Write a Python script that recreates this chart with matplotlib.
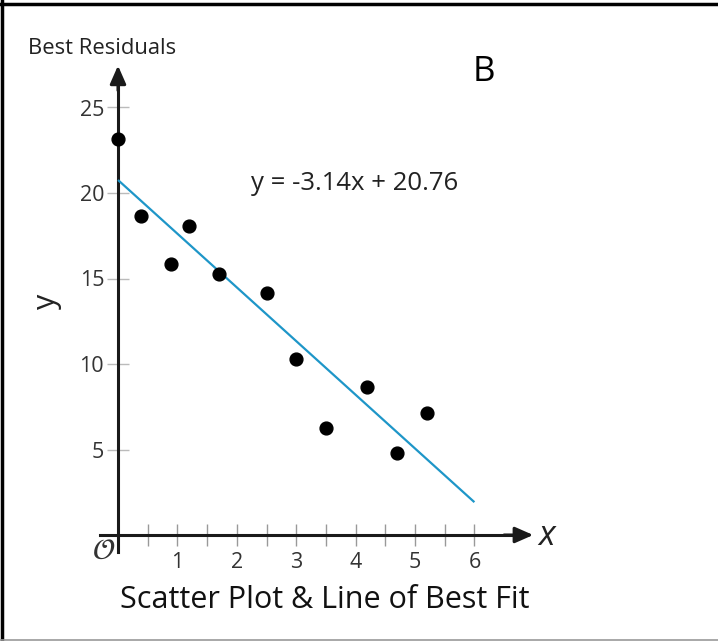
import matplotlib
matplotlib.use("Agg")
import matplotlib.pyplot as plt
import numpy as np

# Data
x_vals = [0.0, 0.39, 0.89, 1.19, 1.70, 2.50, 3.00, 3.50, 4.20, 4.70, 5.21]
y_vals = [23.16, 18.65, 15.85, 18.07, 15.26, 14.17, 10.27, 6.27, 8.67, 4.78, 7.12]
slope = -3.14
intercept = 20.76
fit_x = [0.0, 6.0]
x_ticks = [1, 2, 3, 4, 5, 6]
x_minor = [0.5, 1.5, 2.5, 3.5, 4.5, 5.5]
y_ticks = [5, 10, 15, 20, 25]

plt.rcParams['font.family'] = ['Open Sans', 'DejaVu Sans']

W, H = 718, 641
fig = plt.figure(figsize=(W / 100, H / 100), dpi=100)
ax = fig.add_axes([0, 0, 1, 1])

# pixel mapping: x_px = 118 + 59.4*x ; y_px = 535 - 17.1*y
sx, ox = 59.4, 118
sy, oy = 17.1, 535
ax.set_xlim(-ox / sx, (W - ox) / sx)
ax.set_ylim((oy - H) / sy, oy / sy)

for s in ['top', 'right']:
    ax.spines[s].set_visible(False)
ax.spines['left'].set_position(('data', 0))
ax.spines['bottom'].set_position(('data', 0))
ax.spines['left'].set_bounds(-1.0, 27.0)
ax.spines['bottom'].set_bounds(-0.30, 6.85)
for s in ['left', 'bottom']:
    ax.spines[s].set_linewidth(2.2)
    ax.spines[s].set_color('#1a1a1a')
    ax.spines[s].set_zorder(3)

# arrow heads
ax.annotate('', xy=(0, 27.45), xytext=(0, 26.0),
            arrowprops=dict(arrowstyle='-|>,head_length=0.5,head_width=0.22', color='#1a1a1a', lw=2.2,
                            mutation_scale=22, shrinkA=0, shrinkB=0))
ax.annotate('', xy=(6.99, 0), xytext=(6.5, 0),
            arrowprops=dict(arrowstyle='-|>,head_length=0.5,head_width=0.22', color='#1a1a1a', lw=2.2,
                            mutation_scale=22, shrinkA=0, shrinkB=0))

ax.set_xticks(x_ticks)
ax.set_xticks(x_minor, minor=True)
ax.set_yticks(y_ticks)
ax.tick_params(axis='x', which='both', direction='inout', length=16, width=1.0,
               color='#999999', labelsize=15.5, labelcolor='#333333', pad=4)
ax.tick_params(axis='y', which='both', direction='inout', length=16, width=1.0,
               color='#bbbbbb', labelsize=15.5, labelcolor='#333333', pad=2)

# line of best fit
fit_y = [slope * v + intercept for v in fit_x]
ax.plot(fit_x, fit_y, color='#1e96c8', lw=1.6, zorder=4, solid_capstyle='butt')

# points
ax.scatter(x_vals, y_vals, s=85, color='black', zorder=5, clip_on=False)

def px(xp, yp):
    return ((xp - ox) / sx, (oy - yp) / sy)

ax.text(*px(102, 49), 'Best Residuals', fontsize=15.8, ha='center', va='center', color='#222222')
ax.text(*px(484, 72), 'B', fontsize=25, ha='center', va='center', color='black')
ax.text(*px(355, 184), 'y = -3.14x + 20.76', fontsize=18.5, ha='center', va='center', color='#222222')
ax.text(*px(47, 301), 'y', fontsize=22, ha='center', va='center', rotation=90, color='#222222')
ax.text(*px(547, 536), 'x', fontsize=25, ha='center', va='center', style='italic', color='#222222')
ax.text(*px(104, 551), r'$\mathcal{O}$', fontsize=21, ha='center', va='center', color='#333333')
ax.text(*px(325, 600), 'Scatter Plot & Line of Best Fit', fontsize=22, ha='center', va='center', color='#111111')

# frame lines
fig.add_artist(plt.Line2D([1.5 / W, 1.5 / W], [0, 1], color='black', lw=2.5))
fig.add_artist(plt.Line2D([0, 1], [1 - 4 / H, 1 - 4 / H], color='black', lw=2.5))
fig.add_artist(plt.Line2D([0, 1], [1 / H, 1 / H], color='#999999', lw=1.2))

fig.savefig('out.png', dpi=100)
